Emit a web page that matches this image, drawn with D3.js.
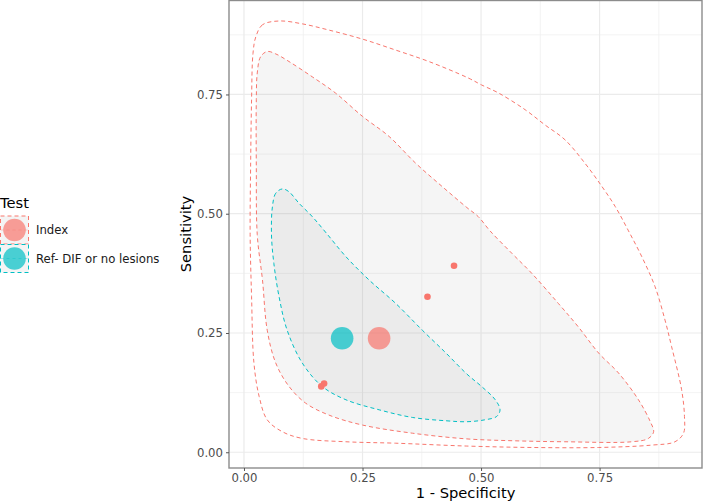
<!DOCTYPE html>
<html>
<head>
<meta charset="utf-8">
<script src="https://cdn.jsdelivr.net/npm/d3@7"></script>
<style>
  body { margin: 0; background: #fff; }
  text { font-family: "DejaVu Sans", sans-serif; }
</style>
</head>
<body>
<div id="chart"></div>
<script>
// ---- data (x = 1 - specificity, y = sensitivity)
const tests = ["Index", "Ref- DIF or no lesions"];
const colors = ["#F8766D", "#00BFC4"];
const xTicks = [0, 0.25, 0.5, 0.75];
const yTicks = [0, 0.25, 0.5, 0.75];

// individual studies (Index)
const studyX = [0.163, 0.169, 0.387, 0.443];
const studyY = [0.138, 0.144, 0.326, 0.391];

// summary points
const summaryX = [0.285, 0.207];
const summaryY = [0.239, 0.239];

// prediction region, Index (no fill)
const predIndex = [
  [0.074, 0.904], [0.039, 0.896], [0.025, 0.871], [0.019, 0.836], [0.016, 0.739],
  [0.014, 0.599], [0.013, 0.456], [0.016, 0.326], [0.021, 0.187], [0.032, 0.117],
  [0.049, 0.068], [0.081, 0.043], [0.123, 0.029], [0.215, 0.022], [0.32, 0.019],
  [0.47, 0.013], [0.607, 0.010], [0.748, 0.010], [0.86, 0.015], [0.909, 0.022],
  [0.927, 0.040], [0.929, 0.075], [0.923, 0.131], [0.902, 0.221], [0.888, 0.277],
  [0.867, 0.347], [0.839, 0.41], [0.811, 0.464], [0.783, 0.515], [0.755, 0.557],
  [0.719, 0.606], [0.677, 0.655], [0.635, 0.686], [0.593, 0.718], [0.537, 0.753],
  [0.501, 0.770], [0.472, 0.785], [0.39, 0.819], [0.32, 0.843], [0.25, 0.866],
  [0.179, 0.885], [0.123, 0.898]
];

// confidence region, Index
const confIndex = [
  [0.049, 0.84], [0.035, 0.829], [0.028, 0.795], [0.026, 0.739], [0.026, 0.599],
  [0.028, 0.456], [0.039, 0.361], [0.049, 0.256], [0.067, 0.187], [0.095, 0.138],
  [0.13, 0.103], [0.179, 0.078], [0.25, 0.057], [0.355, 0.04], [0.47, 0.028],
  [0.572, 0.024], [0.677, 0.022], [0.818, 0.022], [0.853, 0.029], [0.864, 0.043],
  [0.857, 0.064], [0.832, 0.11], [0.79, 0.166], [0.748, 0.208], [0.705, 0.263],
  [0.663, 0.312], [0.607, 0.375], [0.565, 0.417], [0.519, 0.464], [0.494, 0.494],
  [0.47, 0.513], [0.418, 0.557], [0.362, 0.606], [0.306, 0.662], [0.25, 0.704],
  [0.193, 0.753], [0.144, 0.787], [0.095, 0.819], [0.067, 0.835]
];

// confidence region, Ref
const confRef = [
  [0.081, 0.552], [0.067, 0.543], [0.06, 0.515], [0.058, 0.456], [0.063, 0.396],
  [0.074, 0.326], [0.091, 0.256], [0.123, 0.187], [0.165, 0.138], [0.215, 0.11],
  [0.285, 0.089], [0.355, 0.073], [0.426, 0.066], [0.47, 0.064], [0.508, 0.068],
  [0.533, 0.075], [0.54, 0.089], [0.53, 0.11], [0.501, 0.138], [0.47, 0.164],
  [0.426, 0.208], [0.376, 0.256], [0.32, 0.312], [0.264, 0.361], [0.215, 0.41],
  [0.174, 0.459], [0.144, 0.494], [0.116, 0.522], [0.095, 0.546]
];

// ---- layout
const W = 707, H = 502;
const panel = {left: 229, right: 702, top: 0, bottom: 468};

const svg = d3.select("#chart").append("svg")
  .attr("width", W).attr("height", H);

const x = d3.scaleLinear().domain([-0.0316, 0.966]).range([panel.left, panel.right]);
const y = d3.scaleLinear().domain([-0.033, 0.948]).range([panel.bottom, panel.top]);

// grid
const minor = [0.125, 0.375, 0.625, 0.875];
const grid = svg.append("g");
minor.forEach(v => {
  if (x(v) < panel.right) grid.append("line").attr("x1", x(v)).attr("x2", x(v))
    .attr("y1", panel.top).attr("y2", panel.bottom).attr("stroke", "#F0F0F0").attr("stroke-width", 0.8);
  if (y(v) > panel.top) grid.append("line").attr("y1", y(v)).attr("y2", y(v))
    .attr("x1", panel.left).attr("x2", panel.right).attr("stroke", "#F0F0F0").attr("stroke-width", 0.8);
});
xTicks.forEach(v => grid.append("line").attr("x1", x(v)).attr("x2", x(v))
  .attr("y1", panel.top).attr("y2", panel.bottom).attr("stroke", "#EBEBEB").attr("stroke-width", 1.2));
yTicks.forEach(v => grid.append("line").attr("y1", y(v)).attr("y2", y(v))
  .attr("x1", panel.left).attr("x2", panel.right).attr("stroke", "#EBEBEB").attr("stroke-width", 1.2));

// regions
const region = d3.line().x(d => x(d[0])).y(d => y(d[1])).curve(d3.curveCatmullRomClosed.alpha(0.5));

svg.append("path").attr("d", region(predIndex))
  .attr("fill", "none").attr("stroke", colors[0]).attr("stroke-width", 1)
  .attr("stroke-dasharray", "4,3");
svg.append("path").attr("d", region(confIndex))
  .attr("fill", "#7F7F7F").attr("fill-opacity", 0.08)
  .attr("stroke", colors[0]).attr("stroke-width", 1).attr("stroke-dasharray", "4,3");
svg.append("path").attr("d", region(confRef))
  .attr("fill", "#7F7F7F").attr("fill-opacity", 0.08)
  .attr("stroke", colors[1]).attr("stroke-width", 1).attr("stroke-dasharray", "4,3");

// studies
svg.selectAll(".study").data(studyX).enter().append("circle")
  .attr("cx", d => x(d)).attr("cy", (d, i) => y(studyY[i]))
  .attr("r", 3.3).attr("fill", colors[0]);

// summary points
svg.selectAll(".summary").data(summaryX).enter().append("circle")
  .attr("cx", d => x(d)).attr("cy", (d, i) => y(summaryY[i]))
  .attr("r", 11.3).attr("fill", (d, i) => colors[i]).attr("fill-opacity", 0.7);

// panel border
svg.append("rect").attr("x", panel.left).attr("y", panel.top + 0.5)
  .attr("width", panel.right - panel.left).attr("height", panel.bottom - panel.top - 0.5)
  .attr("fill", "none").attr("stroke", "#8C8C8C").attr("stroke-width", 1.4);

// axes
const xAxis = svg.append("g").attr("transform", `translate(0,${panel.bottom})`)
  .call(d3.axisBottom(x).tickValues(xTicks).tickFormat(d3.format(".2f")).tickSize(3).tickPadding(3));
const yAxis = svg.append("g").attr("transform", `translate(${panel.left},0)`)
  .call(d3.axisLeft(y).tickValues(yTicks).tickFormat(d3.format(".2f")).tickSize(3).tickPadding(3));
[xAxis, yAxis].forEach(a => {
  a.select(".domain").remove();
  a.selectAll(".tick line").attr("stroke", "#555").attr("stroke-width", 1);
  a.selectAll(".tick text").attr("fill", "#4D4D4D").style("font-size", "11.7px")
    .style("font-family", "DejaVu Sans, sans-serif");
});

svg.append("text").attr("x", (panel.left + panel.right) / 2).attr("y", 498)
  .attr("text-anchor", "middle").style("font-size", "14.7px").attr("fill", "#000")
  .text("1 - Specificity");
svg.append("text").attr("transform", `translate(191,${(panel.top + panel.bottom) / 2}) rotate(-90)`)
  .attr("text-anchor", "middle").style("font-size", "14.7px").attr("fill", "#000")
  .text("Sensitivity");

// legend
const legend = svg.append("g");
legend.append("text").attr("x", 0).attr("y", 208).style("font-size", "14.7px").text("Test");
tests.forEach((t, i) => {
  const ky = 216 + i * 28.5;
  const k = legend.append("g").attr("transform", `translate(0.5,${ky})`);
  k.append("rect").attr("width", 28).attr("height", 28)
    .attr("fill", "#F4F4F4").attr("stroke", colors[i]).attr("stroke-width", 1)
    .attr("stroke-dasharray", "4,3");
  k.append("circle").attr("cx", 14).attr("cy", 14).attr("r", 11.3)
    .attr("fill", colors[i]).attr("fill-opacity", 0.7);
  k.append("line").attr("x1", 0).attr("x2", 28).attr("y1", 14).attr("y2", 14)
    .attr("stroke", colors[i]).attr("stroke-width", 0.6).attr("stroke-dasharray", "3,3")
    .attr("stroke-opacity", 0.6);
  legend.append("text").attr("x", 36).attr("y", ky + 14).attr("dy", "0.35em")
    .style("font-size", "11.7px").attr("fill", "#1A1A1A").text(t);
});
</script>
</body>
</html>
